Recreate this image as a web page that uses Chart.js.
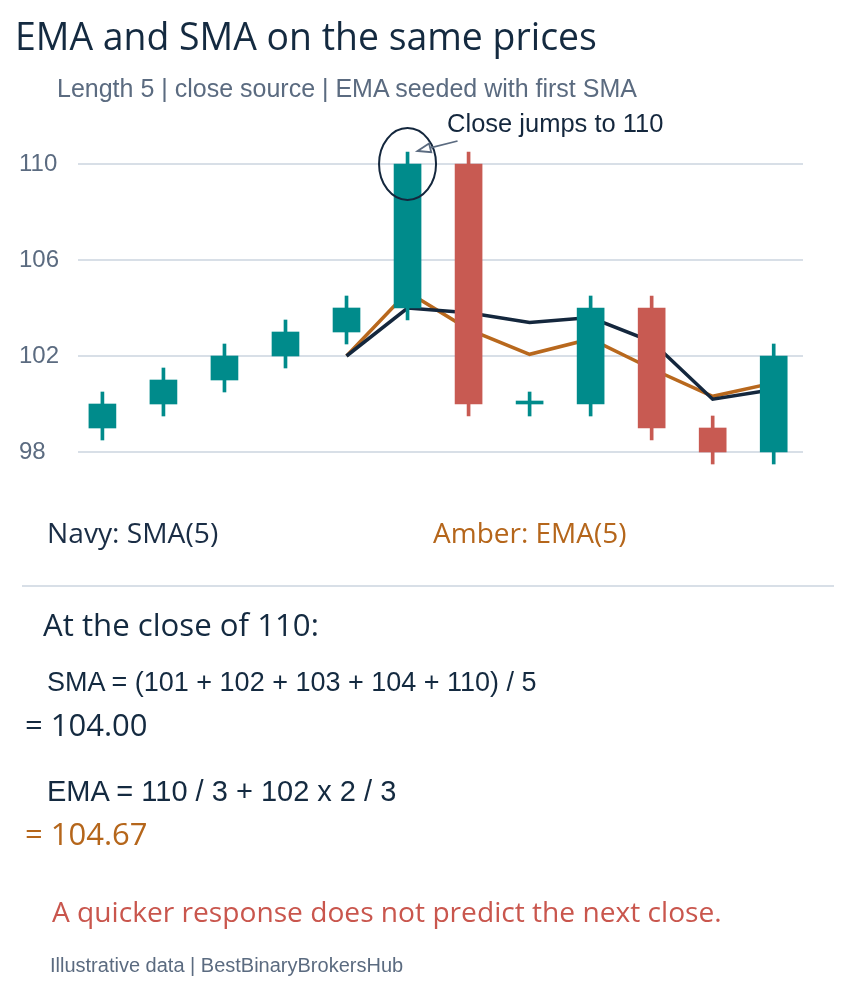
<!DOCTYPE html>
<html>
<head>
<meta charset="utf-8">
<script src="https://cdn.jsdelivr.net/npm/chart.js@4.4.1/dist/chart.umd.min.js"></script>
<style>
html,body{margin:0;padding:0;background:#fff;}
#wrap{position:relative;width:851px;height:996px;overflow:hidden;background:#fff;}
#c{position:absolute;left:0;top:0;}
.t{position:absolute;white-space:nowrap;line-height:1;margin:0;}
.os{font-family:'Open Sans','Noto Sans',sans-serif;}
.ls{font-family:'Liberation Sans',Arial,sans-serif;}
.rule{position:absolute;left:22px;top:585px;width:812px;height:2px;background:#d8dfe7;}
</style>
</head>
<body>
<div id="wrap">
  <canvas id="c" width="851" height="996"></canvas>
  <div class="t os" style="left:15px;top:17px;font-size:37.4px;color:#142a40">EMA and SMA on the same prices</div>
  <div class="t ls" style="left:57px;top:76px;font-size:25px;color:#5b6b80">Length 5 | close source | EMA seeded with first SMA</div>
  <div class="t os" style="left:47px;top:518px;font-size:28.2px;color:#1a2d45">Navy: SMA(5)</div>
  <div class="t os" style="left:433px;top:518px;font-size:28px;color:#b5661b">Amber: EMA(5)</div>
  <div class="rule"></div>
  <div class="t os" style="left:43px;top:609px;font-size:31.2px;color:#142a40">At the close of 110:</div>
  <div class="t ls" style="left:47px;top:669px;font-size:27px;color:#142a40">SMA = (101 + 102 + 103 + 104 + 110) / 5</div>
  <div class="t os" style="left:25px;top:709px;font-size:31px;color:#142a40">= 104.00</div>
  <div class="t ls" style="left:47px;top:777px;font-size:29px;color:#142a40">EMA = 110 / 3 + 102 x 2 / 3</div>
  <div class="t os" style="left:25px;top:818px;font-size:31px;color:#b5661b">= 104.67</div>
  <div class="t os" style="left:52px;top:897px;font-size:28.15px;color:#c9564d">A quicker response does not predict the next close.</div>
  <div class="t ls" style="left:50px;top:955px;font-size:20px;color:#5b6b80">Illustrative data | BestBinaryBrokersHub</div>
</div>
<script>
// ---- data ----
const categories = ['1','2','3','4','5','6','7','8','9','10','11','12'];
const opens  = [99, 100, 101, 102, 103, 104, 110, 100, 100, 104, 99, 98];
const highs  = [100.5, 101.5, 102.5, 103.5, 104.5, 110.5, 110.5, 100.5, 104.5, 104.5, 99.5, 102.5];
const lows   = [98.5, 99.5, 100.5, 101.5, 102.5, 103.5, 99.5, 99.5, 99.5, 98.5, 97.5, 97.5];
const closes = [100, 101, 102, 103, 104, 110, 100, 100, 104, 99, 98, 102];
const smaValues = [null, null, null, null, 102, 104, 103.8, 103.4, 103.6, 102.6, 100.2, 100.6];
const emaValues = [null, null, null, null, 102, 104.67, 103.11, 102.07, 102.71, 101.47, 100.32, 100.88];
const yTicks = [98, 102, 106, 110];
const annotIndex = 5;
const annotText = 'Close jumps to 110';

// ---- styles ----
const TEAL = '#008B8B', RED = '#C85A52', NAVY = '#14273D', AMBER = '#B8681D', GREY = '#5B6B80';
const idx = categories.map((_, i) => i);
const colorFor = i => closes[i] >= opens[i] ? TEAL : RED;
const lineData = arr => idx.filter(i => arr[i] !== null).map(i => ({x: i, y: arr[i]}));

const annot = {
  id: 'annot',
  afterDatasetsDraw(chart) {
    const {ctx, scales: {x, y}} = chart;
    const cx = x.getPixelForValue(annotIndex);
    const cy = y.getPixelForValue(closes[annotIndex]);
    ctx.save();
    ctx.strokeStyle = NAVY;
    ctx.lineWidth = 2;
    ctx.beginPath();
    ctx.ellipse(cx, cy, 28.5, 36, 0, 0, Math.PI * 2);
    ctx.stroke();
    // arrow
    const tipX = cx + 10, tipY = y.getPixelForValue(highs[annotIndex]) - 1;
    const sx = cx + 50, sy = cy - 23;
    const ang = Math.atan2(tipY - sy, tipX - sx);
    const len = 13, hw = 4.5;
    const bx = tipX - len * Math.cos(ang), by = tipY - len * Math.sin(ang);
    ctx.strokeStyle = GREY;
    ctx.lineWidth = 1.8;
    ctx.beginPath();
    ctx.moveTo(sx, sy);
    ctx.lineTo(bx, by);
    ctx.stroke();
    ctx.beginPath();
    ctx.moveTo(tipX, tipY);
    ctx.lineTo(bx - hw * Math.sin(ang), by + hw * Math.cos(ang));
    ctx.lineTo(bx + hw * Math.sin(ang), by - hw * Math.cos(ang));
    ctx.closePath();
    ctx.fillStyle = '#fff';
    ctx.fill();
    ctx.stroke();
    // label
    ctx.fillStyle = NAVY;
    ctx.font = "25.5px 'Liberation Sans', Arial, sans-serif";
    ctx.textBaseline = 'alphabetic';
    ctx.textAlign = 'left';
    ctx.fillText(annotText, cx + 39.5, cy - 32);
    ctx.restore();
  }
};

new Chart(document.getElementById('c'), {
  data: {
    datasets: [
      {
        type: 'bar', label: 'Body',
        data: idx.map(i => ({x: i, y: [opens[i], closes[i]]})),
        backgroundColor: idx.map(colorFor),
        barThickness: 27, minBarLength: 3, grouped: false, order: 0
      },
      {
        type: 'bar', label: 'Wick',
        data: idx.map(i => ({x: i, y: [lows[i], highs[i]]})),
        backgroundColor: idx.map(colorFor),
        barThickness: 3, grouped: false, order: 1
      },
      {
        type: 'line', label: 'SMA(5)', data: lineData(smaValues),
        borderColor: NAVY, borderWidth: 3.5, pointRadius: 0, tension: 0, order: 2
      },
      {
        type: 'line', label: 'EMA(5)', data: lineData(emaValues),
        borderColor: AMBER, borderWidth: 3.5, pointRadius: 0, tension: 0, order: 3
      }
    ]
  },
  options: {
    responsive: false,
    animation: false,
    devicePixelRatio: 1,
    layout: {padding: {left: 19, right: 48, top: 140, bottom: 520}},
    plugins: {legend: {display: false}, tooltip: {enabled: false}, title: {display: false}},
    scales: {
      x: {type: 'linear', min: -0.4, max: 11.48, offset: false, display: false},
      y: {
        type: 'linear', min: 97, max: 111,
        afterBuildTicks: s => { s.ticks = yTicks.map(v => ({value: v})); },
        afterFit: s => { s.width = 59; },
        border: {display: false},
        grid: {color: '#D8DFE7', lineWidth: 2, drawTicks: false},
        ticks: {
          crossAlign: 'far', padding: 0, color: GREY,
          font: {family: "'Liberation Sans', Arial, sans-serif", size: 24}
        }
      }
    }
  },
  plugins: [annot]
});
</script>
</body>
</html>
